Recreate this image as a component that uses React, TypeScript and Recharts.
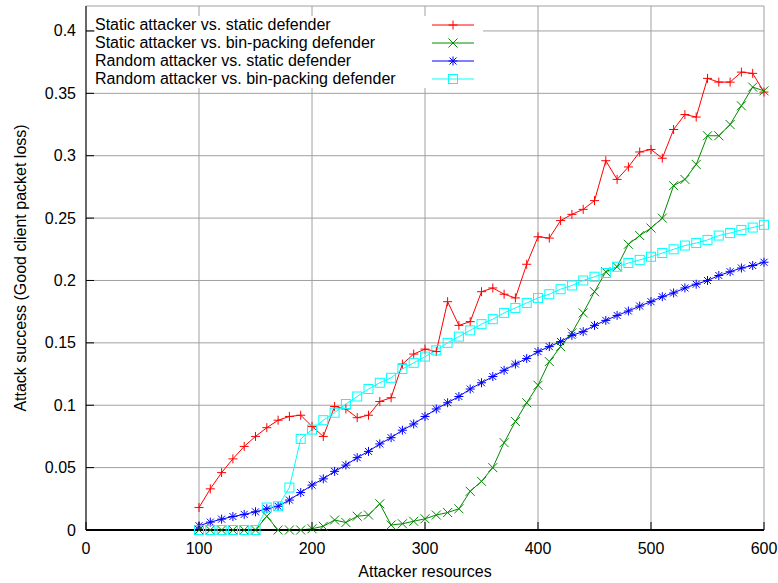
import React from "react";
import { LineChart, Line, XAxis, YAxis, CartesianGrid, Legend } from "recharts";

// attacker resources sampled every 10 units
const resources = [
  100, 110, 120, 130, 140, 150, 160, 170, 180, 190,
  200, 210, 220, 230, 240, 250, 260, 270, 280, 290,
  300, 310, 320, 330, 340, 350, 360, 370, 380, 390,
  400, 410, 420, 430, 440, 450, 460, 470, 480, 490,
  500, 510, 520, 530, 540, 550, 560, 570, 580, 590,
  600,
];

const staticVsStatic = [
  0.018, 0.033, 0.046, 0.057, 0.067, 0.075, 0.082, 0.088, 0.091, 0.092,
  0.083, 0.075, 0.099, 0.097, 0.09, 0.092, 0.103, 0.106, 0.133, 0.141,
  0.145, 0.143, 0.183, 0.164, 0.167, 0.191, 0.194, 0.189, 0.186, 0.213,
  0.235, 0.234, 0.248, 0.253, 0.257, 0.264, 0.296, 0.281, 0.291, 0.303,
  0.305, 0.298, 0.321, 0.333, 0.331, 0.362, 0.359, 0.359, 0.367, 0.366,
  0.351,
];

const staticVsBinPacking = [
  0, 0, 0, 0, 0, 0, 0.011, 0, 0, 0,
  0.001, 0.003, 0.008, 0.006, 0.011, 0.012, 0.021, 0.004, 0.005, 0.007,
  0.009, 0.012, 0.014, 0.017, 0.031, 0.039, 0.05, 0.07, 0.087, 0.102,
  0.116, 0.135, 0.147, 0.158, 0.174, 0.191, 0.207, 0.211, 0.229, 0.236,
  0.242, 0.25, 0.276, 0.281, 0.293, 0.316, 0.316, 0.325, 0.34, 0.355,
  0.352,
];

const randomVsStatic = [
  0.0034, 0.0063, 0.0087, 0.0108, 0.0125, 0.0146, 0.017, 0.019, 0.024, 0.03,
  0.036, 0.041, 0.047, 0.052, 0.058, 0.063, 0.069, 0.074, 0.08, 0.085,
  0.091, 0.097, 0.102, 0.107, 0.113, 0.118, 0.123, 0.128, 0.133, 0.1375,
  0.143, 0.147, 0.151, 0.156, 0.159, 0.164, 0.168, 0.172, 0.1755, 0.1795,
  0.183, 0.187, 0.19, 0.194, 0.197, 0.2, 0.204, 0.207, 0.21, 0.212,
  0.2146,
];

const randomVsBinPacking = [
  0, 0, 0, 0, 0, 0, 0.018, 0.019, 0.034, 0.073,
  0.0805, 0.088, 0.094, 0.101, 0.107, 0.113, 0.118, 0.122, 0.129, 0.134,
  0.139, 0.144, 0.15, 0.155, 0.16, 0.165, 0.169, 0.174, 0.178, 0.182,
  0.186, 0.189, 0.193, 0.196, 0.2, 0.203, 0.206, 0.211, 0.214, 0.2165,
  0.219, 0.222, 0.225, 0.228, 0.23, 0.2325, 0.236, 0.238, 0.2405, 0.2424,
  0.2446,
];

const xTicks = [0, 100, 200, 300, 400, 500, 600];
const yTicks = [0, 0.05, 0.1, 0.15, 0.2, 0.25, 0.3, 0.35, 0.4];

const FONT = '"Liberation Sans", Arial, Helvetica, sans-serif';
const TICK_LEN = 8;

type Shape = "plus" | "cross" | "star" | "box";

const series: { key: string; name: string; color: string; shape: Shape }[] = [
  { key: "ss", name: "Static attacker vs. static defender", color: "#ff0000", shape: "plus" },
  { key: "sb", name: "Static attacker vs. bin-packing defender", color: "#008a00", shape: "cross" },
  { key: "rs", name: "Random attacker vs. static defender", color: "#0000ff", shape: "star" },
  { key: "rb", name: "Random attacker vs. bin-packing defender", color: "#00ffff", shape: "box" },
];

const data = resources.map((r, i) => ({
  resources: r,
  ss: staticVsStatic[i],
  sb: staticVsBinPacking[i],
  rs: randomVsStatic[i],
  rb: randomVsBinPacking[i],
}));

function Marker({ shape, cx, cy, color }: { shape: Shape; cx: number; cy: number; color: string }) {
  const s = 4.5;
  const d = 3.5;
  if (shape === "plus") {
    return (
      <g stroke={color} strokeWidth={1}>
        <line x1={cx - s} x2={cx + s} y1={cy} y2={cy} />
        <line x1={cx} x2={cx} y1={cy - s} y2={cy + s} />
      </g>
    );
  }
  if (shape === "cross") {
    return (
      <g stroke={color} strokeWidth={1}>
        <line x1={cx - s} x2={cx + s} y1={cy - s} y2={cy + s} />
        <line x1={cx - s} x2={cx + s} y1={cy + s} y2={cy - s} />
      </g>
    );
  }
  if (shape === "star") {
    return (
      <g stroke={color} strokeWidth={1}>
        <line x1={cx - s} x2={cx + s} y1={cy} y2={cy} />
        <line x1={cx} x2={cx} y1={cy - s} y2={cy + s} />
        <line x1={cx - d} x2={cx + d} y1={cy - d} y2={cy + d} />
        <line x1={cx - d} x2={cx + d} y1={cy + d} y2={cy - d} />
      </g>
    );
  }
  return <rect x={cx - s} y={cy - s} width={2 * s} height={2 * s} fill="none" stroke={color} strokeWidth={1} />;
}

const dotFor = (shape: Shape, color: string) => (props: any) => {
  const { cx, cy, index } = props;
  if (cx == null || cy == null) return <g key={`d-${index}`} />;
  return <Marker key={`d-${index}`} shape={shape} cx={cx} cy={cy} color={color} />;
};

// ticks point into the plot, gnuplot style; tickSize is 0 so x/y sit tickMargin from the axis
const BottomTick = (props: any) => {
  const { x, y, payload } = props;
  const axisY = y - 12;
  return (
    <g>
      <line x1={x} x2={x} y1={axisY} y2={axisY - TICK_LEN} stroke="#000" />
      <text x={x} y={axisY + 24} textAnchor="middle" fontSize={16} fontFamily={FONT} fill="#000">
        {payload.value}
      </text>
    </g>
  );
};

const LeftTick = (props: any) => {
  const { x, y, payload } = props;
  const axisX = x + 10;
  return (
    <g>
      <line x1={axisX} x2={axisX + TICK_LEN} y1={y} y2={y} stroke="#000" />
      <text x={x} y={y + 5.5} textAnchor="end" fontSize={16} fontFamily={FONT} fill="#000">
        {payload.value}
      </text>
    </g>
  );
};

const TopTick = (props: any) => {
  const { x, y } = props;
  return <line x1={x} x2={x} y1={y} y2={y + TICK_LEN} stroke="#000" />;
};

const RightTick = (props: any) => {
  const { x, y } = props;
  return <line x1={x} x2={x - TICK_LEN} y1={y} y2={y} stroke="#000" />;
};

const XTitle = (props: any) => {
  const vb = props.viewBox;
  return (
    <text x={vb.x + vb.width / 2} y={vb.y + 47} textAnchor="middle" fontSize={16} fontFamily={FONT} fill="#000">
      Attacker resources
    </text>
  );
};

const YTitle = (props: any) => {
  const vb = props.viewBox;
  const cx = vb.x;
  const cy = vb.y + vb.height / 2;
  return (
    <text
      x={cx}
      y={cy}
      transform={`rotate(-90 ${cx} ${cy})`}
      textAnchor="middle"
      dominantBaseline="central"
      fontSize={16}
      fontFamily={FONT}
      fill="#000"
    >
      Attack success (Good client packet loss)
    </text>
  );
};

const KeyBox = () => (
  <div style={{ background: "#fff", width: 388, height: 72, fontFamily: FONT, fontSize: 16, color: "#000" }}>
    {series.map((s) => (
      <div key={s.key} style={{ position: "relative", height: 18, lineHeight: "18px", whiteSpace: "nowrap" }}>
        {s.name}
        <svg style={{ position: "absolute", left: 337, top: 0 }} width={42} height={18}>
          <line x1={0} x2={42} y1={9} y2={9} stroke={s.color} strokeWidth={1} />
          <Marker shape={s.shape} cx={21} cy={9} color={s.color} />
        </svg>
      </div>
    ))}
  </div>
);

export default function App() {
  return (
    <div style={{ position: "absolute", left: 0, top: 0, width: 778, height: 583, background: "#fff", fontFamily: FONT }}>
      <LineChart width={778} height={583} data={data} margin={{ top: 6, right: 14, bottom: 23, left: 20 }}>
        <CartesianGrid stroke="#a0a0a0" strokeWidth={1} />
        <XAxis
          dataKey="resources"
          type="number"
          domain={[0, 600]}
          ticks={xTicks}
          interval={0}
          height={30}
          tickSize={0}
          tickMargin={12}
          tickLine={false}
          tick={<BottomTick />}
          axisLine={{ stroke: "#000", strokeWidth: 2 }}
          label={<XTitle />}
        />
        <XAxis
          xAxisId="top"
          orientation="top"
          dataKey="resources"
          type="number"
          domain={[0, 600]}
          ticks={xTicks}
          interval={0}
          height={0}
          tickSize={0}
          tickMargin={0}
          tickLine={false}
          tick={<TopTick />}
          axisLine={{ stroke: "#000" }}
        />
        <YAxis
          type="number"
          domain={[0, 0.42]}
          ticks={yTicks}
          interval={0}
          width={66}
          tickSize={0}
          tickMargin={10}
          tickLine={false}
          tick={<LeftTick />}
          axisLine={{ stroke: "#000" }}
          label={<YTitle />}
        />
        <YAxis
          yAxisId="right"
          orientation="right"
          type="number"
          domain={[0, 0.42]}
          ticks={yTicks}
          interval={0}
          width={0}
          tickSize={0}
          tickMargin={0}
          tickLine={false}
          tick={<RightTick />}
          axisLine={{ stroke: "#000" }}
        />
        {series.map((s) => (
          <Line
            key={s.key}
            type="linear"
            dataKey={s.key}
            name={s.name}
            stroke={s.color}
            strokeWidth={1}
            dot={dotFor(s.shape, s.color)}
            activeDot={false}
            isAnimationActive={false}
          />
        ))}
        <Legend
          layout="vertical"
          align="center"
          verticalAlign="middle"
          content={() => <KeyBox />}
          wrapperStyle={{ left: 95, top: 16, width: 388, height: 72 }}
        />
      </LineChart>
    </div>
  );
}
